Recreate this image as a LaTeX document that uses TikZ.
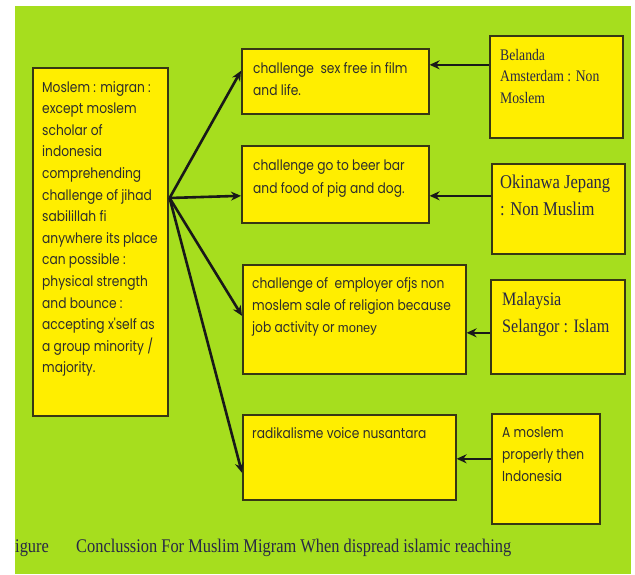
\documentclass[tikz,border=0pt]{standalone}
\usepackage{fontspec}
\newfontfamily\bsans[FakeStretch=0.85]{Poppins}
\newfontfamily\bserif[FakeStretch=0.85]{Liberation Serif}
\newfontfamily\msans{Liberation Sans}
\usetikzlibrary{arrows.meta,calc}
\definecolor{bggreen}{RGB}{166,222,30}
\definecolor{boxyellow}{RGB}{255,238,0}
\definecolor{boxline}{RGB}{55,55,20}
\definecolor{inkc}{RGB}{45,45,45}
\definecolor{serifink}{RGB}{40,40,70}
\begin{document}
\begin{tikzpicture}[x=1pt,y=-1pt,
  boxnode/.style={draw=boxline, fill=boxyellow, line width=1.6pt, inner sep=0pt, anchor=north west},
  sanstxt/.style={anchor=base west, inner sep=0pt, align=left, text=inkc, font=\bsans\fontsize{14.4}{22}\selectfont},
  seriftxt/.style={anchor=base west, inner sep=0pt, align=left, text=serifink},
  arr/.style={line width=2.6pt, draw=black!90, -{Stealth[length=10pt,width=9pt]}}]
\useasboundingbox (0,0) rectangle (635,574);
\fill[white] (0,0) rectangle (635,574);
\fill[bggreen] (15,6) rectangle (631,574);

% boxes
\node[boxnode, minimum width=135pt, minimum height=348pt] (L) at (32,67) {};
\node[boxnode, minimum width=187pt, minimum height=65pt] (A) at (241,48) {};
\node[boxnode, minimum width=187pt, minimum height=77pt] (B) at (241,145) {};
\node[boxnode, minimum width=223pt, minimum height=109pt] (C) at (242,264) {};
\node[boxnode, minimum width=213pt, minimum height=85pt] (D) at (242,414) {};
\node[boxnode, minimum width=133pt, minimum height=102pt] (R1) at (489,35) {};
\node[boxnode, minimum width=133pt, minimum height=90pt] (R2) at (491,163) {};
\node[boxnode, minimum width=134pt, minimum height=94pt] (R3) at (490,279) {};
\node[boxnode, minimum width=108pt, minimum height=110pt] (R4) at (491,413) {};

% texts (anchored at the baseline of their last line)
\node[sanstxt, font=\bsans\fontsize{14.4}{21.6}\selectfont] (Lt) at (42,372.8) {Moslem : migran :\\except moslem\\scholar of\\indonesia\\comprehending\\challenge of jihad\\sabilillah fi\\anywhere its place\\can possible :\\physical strength\\and bounce :\\accepting x'self as\\a group minority /\\majority.};
\node[sanstxt] (At) at (253,95) {challenge\ \ sex free in film\\and life.};
\node[sanstxt, font=\bsans\fontsize{14.4}{23}\selectfont] (Bt) at (253,193) {challenge go to beer bar\\and food of pig and dog.};
\node[sanstxt] (Ct) at (252,332) {challenge of\ \ employer ofjs non\\moslem sale of religion because\\job activity or {\msans\fontsize{13}{13}\selectfont money}};
\node[sanstxt] (Dt) at (252,438) {radikalisme voice nusantara};
\node[sanstxt] (R4t) at (502,481) {A moslem\\properly then\\Indonesia};
\node[seriftxt, font=\bserif\fontsize{16.1}{21.5}\selectfont] (R1t) at (500,103) {Belanda\\Amsterdam : Non\\Moslem};
\node[seriftxt, font=\bserif\fontsize{19.5}{27}\selectfont] (R2t) at (500,215) {Okinawa Jepang\\: Non Muslim};
\node[seriftxt, font=\bserif\fontsize{19}{27}\selectfont] (R3t) at (502,332) {Malaysia\\Selangor : Islam};
\node[seriftxt, font=\bserif\fontsize{19.3}{22}\selectfont] (capA) at (15,552) {igure};
\node[seriftxt, font=\bserif\fontsize{19.3}{22}\selectfont] (capB) at (76,552) {Conclussion For Muslim Migram When dispread islamic reaching};

% connectors from the left box
\coordinate (src) at ($(L.north east)+(1,131)$);
\draw[arr] (src) -- ([yshift=10.5pt]A.west);
\draw[arr] (src) -- ([yshift=-11.5pt]B.west);
\draw[arr] (src) -- ([yshift=3.5pt]C.west);
\draw[arr] (src) -- ([yshift=-15.5pt]D.west);

% connectors from the right boxes
\coordinate (p1) at ($(R1.west)+(0,-22)$);
\coordinate (p2) at ($(R2.west)+(0,-13)$);
\coordinate (p3) at ($(R3.west)+(0,6)$);
\coordinate (p4) at ($(R4.west)+(0,-10)$);
\draw[arr] (p1) -- (p1 -| A.east);
\draw[arr] (p2) -- (p2 -| B.east);
\draw[arr] (p3) -- (p3 -| C.east);
\draw[arr] (p4) -- (p4 -| D.east);
\end{tikzpicture}
\end{document}
